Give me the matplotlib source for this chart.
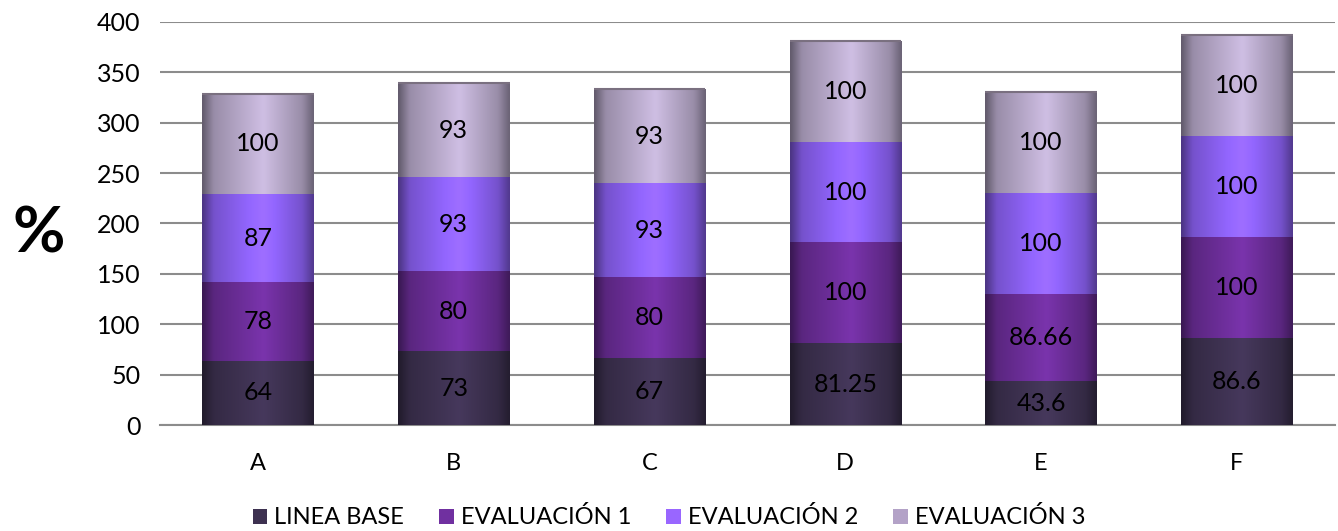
import numpy as np
import matplotlib.pyplot as plt
from matplotlib.colors import to_rgb
from matplotlib.patches import Patch

plt.rcParams['font.family'] = ['Lato', 'DejaVu Sans']

categories = ["A", "B", "C", "D", "E", "F"]
series_names = ["LINEA BASE", "EVALUACIÓN 1", "EVALUACIÓN 2", "EVALUACIÓN 3"]
linea_base = [64, 73, 67, 81.25, 43.6, 86.6]
evaluacion_1 = [78, 80, 80, 100, 86.66, 100]
evaluacion_2 = [87, 93, 93, 100, 100, 100]
evaluacion_3 = [100, 93, 93, 100, 100, 100]

series = [linea_base, evaluacion_1, evaluacion_2, evaluacion_3]
base_colors = ["#3d3150", "#6a2d96", "#8a60f0", "#b4a6c6"]
legend_colors = ["#3d3150", "#7030a0", "#9966ff", "#b3a2c7"]


def cylinder_shade(color, n=64):
    # horizontal light profile: dark edges, highlight slightly right of centre
    t = np.linspace(0, 1, n)
    f = np.interp(t, [0, 0.1, 0.55, 0.9, 1], [0.55, 0.85, 1.15, 0.85, 0.6])
    rgb = np.array(to_rgb(color))
    row = np.clip(rgb[None, :] * f[:, None], 0, 1)
    return row[None, :, :]


fig = plt.figure(figsize=(13.38, 5.31), dpi=100)
ax = fig.add_axes([0.1196, 0.1996, 0.878, 0.759])

x = np.arange(len(categories))
width = 0.57
bottom = np.zeros(len(categories))
for vals, col in zip(series, base_colors):
    bars = ax.bar(x, vals, width, bottom=bottom, color=col, zorder=2,
                  edgecolor='none')
    for rect, v, b in zip(bars, vals, bottom):
        x0 = rect.get_x()
        img = ax.imshow(cylinder_shade(col), extent=[x0, x0 + width, b, b + v],
                        aspect='auto', interpolation='bicubic', zorder=3)
        img.set_clip_path(rect)
        ax.text(rect.get_x() + width / 2, b + v / 2, f"{v:g}",
                ha='center', va='center', fontsize=18, color='black', zorder=5)
    bottom = bottom + np.array(vals)

# thin rim on the cylinder tops
for xi, top in zip(x, bottom):
    ax.plot([xi - width / 2, xi + width / 2], [top, top], color='#7a7080',
            lw=1.5, zorder=4, solid_capstyle='butt')

ax.set_xlim(-0.5, len(categories) - 0.5)
ax.set_ylim(0, 400)
ax.set_yticks(np.arange(0, 401, 50))
ax.yaxis.grid(True, color='#8c8c8c', linewidth=1.5, zorder=0)
ax.set_axisbelow(True)
for s in ['left', 'right', 'top']:
    ax.spines[s].set_visible(False)
ax.spines['bottom'].set_color('#8c8c8c')
ax.spines['bottom'].set_linewidth(1.5)
ax.set_xticks(x)
ax.set_xticklabels(categories)
ax.tick_params(axis='x', length=0, pad=20, labelsize=17)
ax.tick_params(axis='y', length=0, pad=14, labelsize=18)

fig.text(0.029, 0.56, "%", fontsize=46, fontweight='bold', ha='center',
         va='center')

handles = [Patch(facecolor=c, label=n) for c, n in zip(legend_colors, series_names)]
fig.legend(handles=handles, loc='lower center', bbox_to_anchor=(0.5, -0.035),
           ncol=4, frameon=False, fontsize=17, handlelength=0.6,
           handleheight=0.6, handletextpad=0.3, columnspacing=1.5)

fig.savefig("out.png", dpi=100)
